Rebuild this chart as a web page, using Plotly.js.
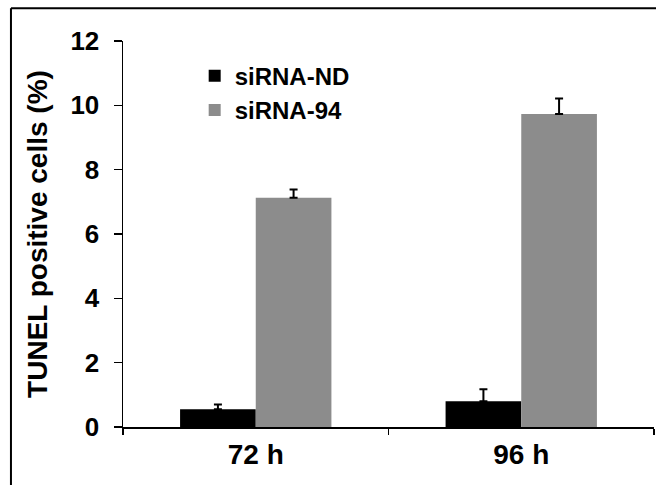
<!DOCTYPE html>
<html>
<head>
<meta charset="utf-8">
<script src="https://cdn.plot.ly/plotly-3.0.1.min.js"></script>
<style>
html,body{margin:0;padding:0;background:#fff;}
#chart{width:656px;height:485px;}
</style>
</head>
<body>
<div id="chart"></div>
<script>
const categories = ["72 h", "96 h"];
const seriesNames = ["siRNA-ND", "siRNA-94"];
const ndValues = [0.55, 0.80];
const ndErrors = [0.15, 0.37];
const s94Values = [7.13, 9.73];
const s94Errors = [0.25, 0.48];
const yTickValues = [0, 2, 4, 6, 8, 10, 12];

const font = "'Liberation Sans', Arial, Helvetica, sans-serif";

function errBar(arr) {
  return {type: 'data', symmetric: false, array: arr, arrayminus: arr.map(() => 0),
          color: '#000', thickness: 2, width: 4};
}

const traces = [
  {type: 'bar', name: seriesNames[0], x: categories, y: ndValues,
   marker: {color: '#000000', line: {width: 0}}, error_y: errBar(ndErrors),
   legendgroup: 'a'},
  {type: 'bar', name: seriesNames[1], x: categories, y: s94Values,
   marker: {color: '#8c8c8c', line: {width: 0}}, error_y: errBar(s94Errors),
   legendgroup: 'b'}
];

const layout = {
  width: 656, height: 485,
  margin: {l: 123, r: 2, t: 41, b: 58, pad: 0},
  paper_bgcolor: '#fff', plot_bgcolor: '#fff',
  font: {family: font, color: '#000', size: 24, weight: 'bold'},
  barmode: 'group', bargap: 0.43, bargroupgap: 0,
  showlegend: true,
  legend: {x: 0.135, y: 0.967, xanchor: 'left', yanchor: 'top',
           font: {family: font, size: 24, color: '#000', weight: 'bold'},
           bgcolor: 'rgba(0,0,0,0)', traceorder: 'grouped', tracegroupgap: 0,
           itemclick: false},
  xaxis: {type: 'category', tickson: 'boundaries', ticks: 'outside', ticklen: 6,
          tickwidth: 1.5, tickcolor: '#000', showline: true, linecolor: '#000',
          linewidth: 1.5, showgrid: false, zeroline: false,
          tickfont: {family: font, size: 28, color: '#000', weight: 'bold'},
          ticklabelstandoff: 2},
  yaxis: {range: [0, 12], tickvals: yTickValues, ticktext: yTickValues.map(String),
          ticks: 'outside', ticklen: 8, tickwidth: 1.5, tickcolor: '#000',
          showline: true, linecolor: '#000', linewidth: 1.5, showgrid: false,
          zeroline: false,
          tickfont: {family: font, size: 26, color: '#000', weight: 'bold'},
          ticklabelstandoff: 9,
          title: {text: 'TUNEL positive cells (%)', standoff: 14,
                  font: {family: font, size: 28, color: '#000', weight: 'bold'}}},
  shapes: [
    {type: 'line', xref: 'paper', yref: 'paper', x0: -0.211, x1: 1.01, y0: 1.085, y1: 1.085,
     line: {color: '#000', width: 2}},
    {type: 'line', xref: 'paper', yref: 'paper', x0: -0.211, x1: -0.211, y0: -0.2, y1: 1.085,
     line: {color: '#000', width: 2}}
  ]
};

Plotly.newPlot('chart', traces, layout, {staticPlot: true, displayModeBar: false});
</script>
</body>
</html>
